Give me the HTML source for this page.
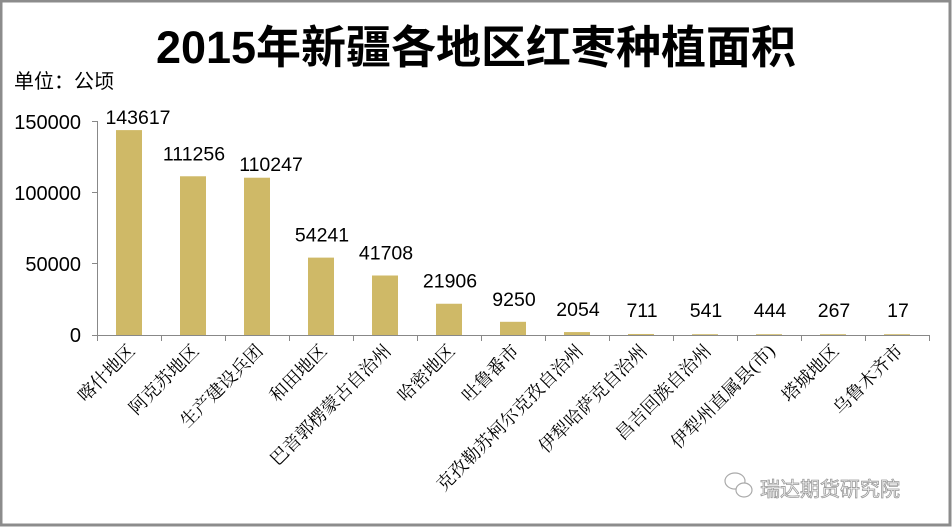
<!DOCTYPE html>
<html><head><meta charset="utf-8"><style>
html,body{margin:0;padding:0;background:#fff}
svg{display:block}
</style></head><body>
<svg width="952" height="527" xmlns="http://www.w3.org/2000/svg">
<rect x="1" y="1" width="949" height="524" fill="#fff" stroke="#8c8c8c" stroke-width="3"/>
<text x="476" y="63" text-anchor="middle" font-family="Liberation Sans, Noto Sans CJK SC, sans-serif" font-weight="bold" font-size="45" fill="#000">2015年新疆各地区红枣种植面积</text>
<text x="14" y="88" font-family="Liberation Sans, Noto Sans CJK SC, sans-serif" font-size="20" fill="#000">单位：公顷</text>
<g font-family="Liberation Sans, sans-serif" font-size="20" fill="#000" text-anchor="end">
<text x="81" y="129">150000</text>
<text x="81" y="200">100000</text>
<text x="81" y="271">50000</text>
<text x="81" y="342">0</text>
</g>
<g stroke="#888" stroke-width="1">
<line x1="97.5" y1="121" x2="97.5" y2="335"/>
<line x1="92" y1="121.5" x2="97" y2="121.5"/>
<line x1="92" y1="192.5" x2="97" y2="192.5"/>
<line x1="92" y1="263.5" x2="97" y2="263.5"/>
<line x1="92" y1="335.5" x2="929" y2="335.5"/>
</g>
<g id="bars" fill="#cfb967"></g>
<g id="ticks" stroke="#888"></g>
<g id="vals" font-family="Liberation Sans, sans-serif" font-size="19.5" fill="#000" text-anchor="middle"></g>
<g id="cats" font-family="Liberation Serif, Noto Serif CJK SC, serif" font-size="18" fill="#000" text-anchor="end"></g>
<g fill="none" stroke="#aaa" stroke-width="1.2">
<ellipse cx="735" cy="481" rx="10" ry="8"/>
<ellipse cx="744" cy="490" rx="8" ry="7" fill="#fff"/>
</g>
<text x="760" y="496" font-family="Liberation Sans, Noto Sans CJK SC, sans-serif" font-size="20" fill="#fff" stroke="#999" stroke-width="0.8">瑞达期货研究院</text>
<script>
(function(){
var v=[143617,111256,110247,54241,41708,21906,9250,2054,711,541,444,267,17];
var n=["喀什地区","阿克苏地区","生产建设兵团","和田地区","巴音郭楞蒙古自治州","哈密地区","吐鲁番市","克孜勒苏柯尔克孜自治州","伊犁哈萨克自治州","昌吉回族自治州","伊犁州直属县(市)","塔城地区","乌鲁木齐市"];
var ns="http://www.w3.org/2000/svg";
function el(t,a,p,txt){var e=document.createElementNS(ns,t);for(var k in a)e.setAttribute(k,a[k]);if(txt)e.textContent=txt;document.getElementById(p).appendChild(e);}
for(var i=0;i<13;i++){
 var c=129+i*64, h=Math.max(v[i]*214/150000,0.8), ty=335-h;
 el("rect",{x:c-13,y:ty,width:26,height:h},"bars");
 el("line",{x1:97.5+i*64,y1:335,x2:97.5+i*64,y2:341},"ticks");
 var ly=Math.min(ty-16,317), lx=c+1;
 if(i==0){ly=124;lx=138;}
 if(i==2){ly=171;lx=271;}
 el("text",{x:lx,y:ly},"vals",String(v[i]));
 el("text",{x:c+7,y:352,transform:"rotate(-45 "+(c+7)+" 352)"},"cats",n[i]);
}
el("line",{x1:929.5,y1:335,x2:929.5,y2:341},"ticks");
})();
</script>
</svg>
</body></html>
